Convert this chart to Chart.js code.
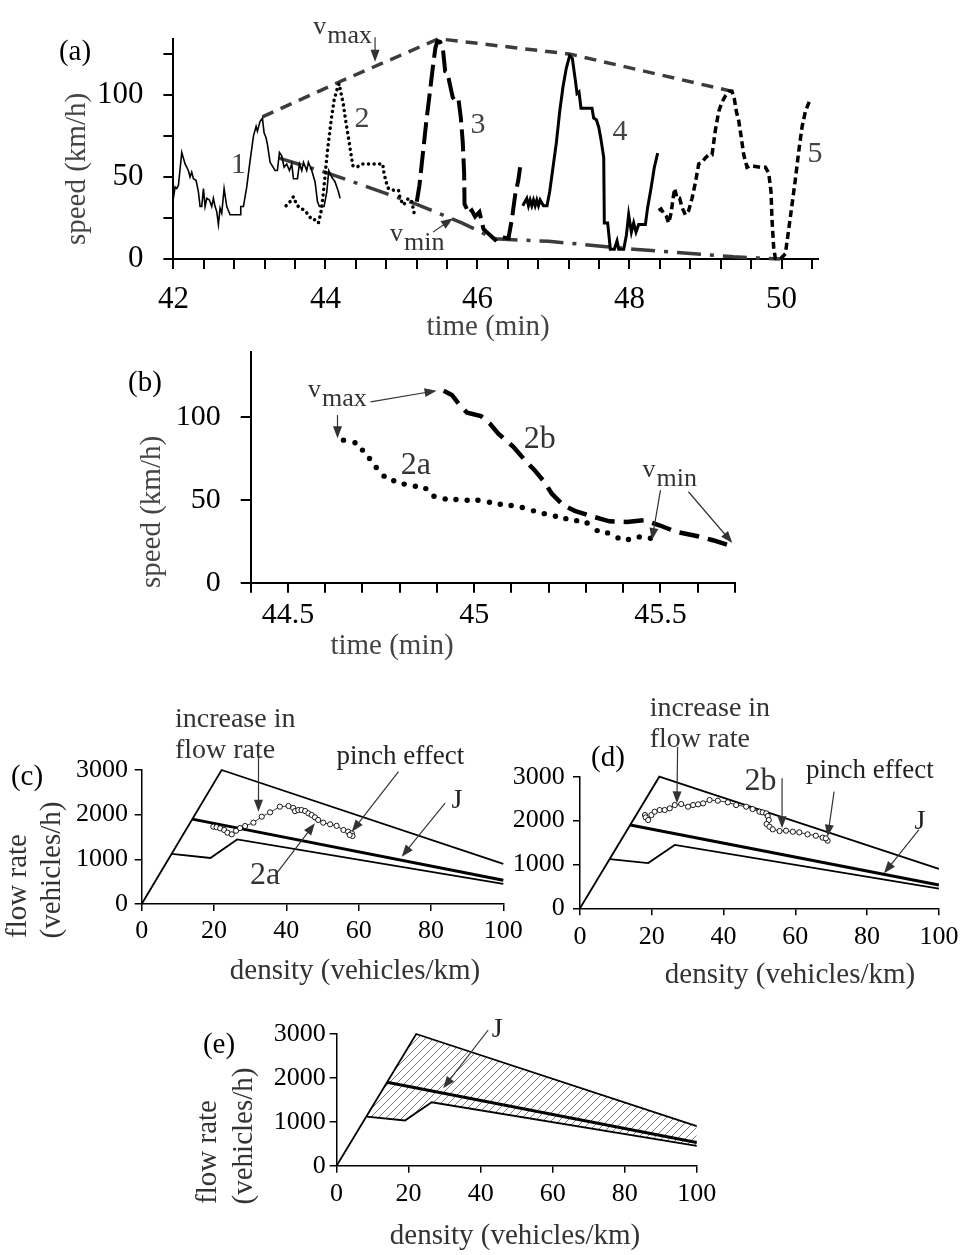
<!DOCTYPE html>
<html>
<head>
<meta charset="utf-8">
<title>speed and flow-density panels</title>
<script src="https://cdn.jsdelivr.net/npm/chart.js@4.4.1/dist/chart.umd.min.js"></script>
<style>
  body { margin: 0; background: #fff; }
  #page { position: relative; width: 965px; height: 1255px; }
  #page canvas { position: absolute; left: 0; top: 0; }
</style>
</head>
<body>
<div id="page">
  <canvas id="chartA" width="965" height="1255"></canvas>
  <canvas id="chartB" width="965" height="1255"></canvas>
  <canvas id="chartC" width="965" height="1255"></canvas>
  <canvas id="chartD" width="965" height="1255"></canvas>
  <canvas id="chartE" width="965" height="1255"></canvas>
</div>
<script>
// ---------- panel (a): speed over time, runs 1..5 ----------
const t1 = [42.000, 42.022, 42.044, 42.066, 42.110, 42.154, 42.197, 42.219, 42.241, 42.263, 42.298, 42.329, 42.351, 42.373, 42.395, 42.417, 42.439, 42.474, 42.504, 42.526, 42.548, 42.570, 42.592, 42.614, 42.636, 42.667, 42.702, 42.746, 42.877, 42.886, 42.921, 42.965, 43.009, 43.053, 43.088, 43.105, 43.140, 43.171, 43.193, 43.219, 43.237, 43.272, 43.338, 43.368, 43.395, 43.425, 43.456, 43.491, 43.526, 43.557, 43.579, 43.632, 43.658, 43.689, 43.711, 43.754, 43.776, 43.820, 43.864, 43.895, 43.921, 43.982, 44.018, 44.044, 44.083, 44.127, 44.171, 44.193];
const v1 = [37, 44, 43, 45, 65, 58, 54, 50, 53, 49, 48, 41, 32, 32, 43, 32, 37, 36, 32, 37, 32, 29, 21, 31, 28, 43, 32, 27, 27, 32, 32, 44, 60, 75, 81, 78, 84, 86, 77, 74, 70, 59, 54, 54, 65, 63, 56, 58, 54, 58, 49, 49, 58, 54, 59, 54, 59, 54, 47, 35, 32, 32, 41, 54, 50, 47, 41, 37];

const t2 = [43.482, 43.535, 43.579, 43.623, 43.667, 43.719, 43.776, 43.820, 43.864, 43.908, 43.939, 43.965, 43.991, 44.018, 44.044, 44.079, 44.114, 44.149, 44.180, 44.206, 44.237, 44.268, 44.303, 44.333, 44.360, 44.412, 44.478, 44.544, 44.632, 44.719, 44.754, 44.772, 44.798, 44.829, 44.895, 44.961, 44.982, 45.026, 45.092, 45.136, 45.167];
const v2 = [32.5, 35, 38, 33, 31, 30, 27, 24, 24, 22, 28, 37, 49, 62, 73, 86, 97, 103, 107, 101, 94, 84, 74, 65, 57, 56, 58, 58, 58, 58, 58, 52, 47, 43, 42, 42, 37, 33, 37, 35, 28];

const t3 = [45.202, 45.237, 45.281, 45.325, 45.368, 45.412, 45.447, 45.474, 45.509, 45.544, 45.575, 45.605, 45.640, 45.675, 45.706, 45.750, 45.781, 45.807, 45.825, 45.830, 45.851, 45.882, 45.925, 45.969, 46.026, 46.079, 46.123, 46.167, 46.232, 46.276, 46.408, 46.452, 46.496, 46.539, 46.561];
const v3 = [35, 45, 64, 83, 99.5, 116.5, 129, 133, 132.5, 129, 114.6, 113.7, 106, 98.6, 96.7, 97.6, 86.3, 71, 52, 33.4, 31.5, 27.8, 29.6, 25.9, 28.7, 18.3, 16.4, 14.5, 11.7, 13.6, 12.7, 24, 39, 48.5, 56];

const t4 = [46.596, 46.649, 46.671, 46.693, 46.715, 46.737, 46.759, 46.781, 46.803, 46.825, 46.868, 46.915, 46.950, 46.994, 47.038, 47.082, 47.125, 47.169, 47.213, 47.248, 47.288, 47.310, 47.336, 47.362, 47.507, 47.529, 47.564, 47.595, 47.625, 47.661, 47.669, 47.713, 47.748, 47.801, 47.836, 47.858, 47.924, 47.959, 47.989, 48.025, 48.055, 48.086, 48.121, 48.209, 48.239, 48.283, 48.327, 48.371];
const v4 = [32.5, 37, 32.5, 36, 32.5, 36, 32.5, 36, 32.5, 36, 32.5, 32.5, 41, 56, 71, 90, 105, 116.5, 124, 122.5, 109, 101, 102, 92, 92, 86, 85, 80.6, 73, 62, 22, 22, 6, 6, 11, 6, 6, 14.5, 27, 16.4, 22, 16.4, 21, 21, 31.5, 43, 56, 64.6];

const t5 = [48.384, 48.416, 48.450, 48.485, 48.516, 48.547, 48.573, 48.595, 48.625, 48.660, 48.691, 48.735, 48.779, 48.823, 48.867, 48.911, 48.955, 48.998, 49.042, 49.086, 49.130, 49.174, 49.217, 49.261, 49.305, 49.349, 49.380, 49.406, 49.437, 49.468, 49.503, 49.546, 49.590, 49.656, 49.722, 49.788, 49.832, 49.862, 49.875, 49.897, 49.919, 49.985, 50.051, 50.095, 50.139, 50.182, 50.226, 50.270, 50.314, 50.371];
const v5 = [29.6, 30.5, 27.8, 26, 22, 28, 37, 43, 37, 37, 31.5, 27, 29.6, 37, 46.6, 58, 59, 61.7, 63.6, 63.6, 78.7, 90, 95.7, 99.5, 102.3, 102.3, 97.6, 90, 84.4, 75, 63.6, 56, 57, 56.5, 56, 56, 52.3, 41, 24, 7, 0.4, 0, 3.2, 18.3, 33.4, 48.5, 65.5, 80.6, 90, 96.7];

// envelopes through the run maxima / minima
const tMax = [43.171, 44.180, 45.487, 47.222, 49.349];
const vMax = [86.7, 108, 134.4, 125, 102.3];
const tMin = [43.382, 44.039, 45.202, 45.794, 46.232, 46.474, 46.937, 48.055, 49.371, 49.985];
const vMin = [61.7, 52.3, 33.4, 22, 12.3, 11.7, 10.8, 6, 1.3, 0];

const aTimeLabels = [42, 44, 46, 48, 50];
const aSpeedLabels = [0, 50, 100];

// ---------- panel (b): runs 2a and 2b ----------
const t2a = [44.649, 44.680, 44.700, 44.719, 44.737, 44.758, 44.784, 44.812, 44.842, 44.870, 44.892, 44.922, 44.951, 44.981, 45.010, 45.041, 45.070, 45.099, 45.129, 45.159, 45.188, 45.218, 45.246, 45.275, 45.303, 45.330, 45.358, 45.386, 45.414, 45.443, 45.473];
const v2a = [85.9, 84.3, 79.9, 74.8, 69.4, 64.2, 61.4, 59.4, 58.1, 56.7, 52.1, 50.5, 50.1, 49.7, 49.7, 48.5, 47.3, 46.5, 45.3, 43.3, 41.6, 40.0, 38.6, 37.4, 36.0, 31.4, 30.0, 27.0, 26.0, 27.6, 26.8];
const t2b = [44.918, 44.940, 44.961, 44.981, 45.018, 45.043, 45.064, 45.105, 45.136, 45.162, 45.188, 45.208, 45.239, 45.270, 45.322, 45.363, 45.409, 45.456, 45.497, 45.543, 45.600, 45.641, 45.693];
const v2b = [115.7, 113.1, 107.0, 102.4, 100.4, 95.6, 89.9, 81.9, 73.8, 67.8, 60.8, 53.7, 46.7, 43.3, 39.6, 37.0, 36.6, 37.6, 34.6, 30.6, 28.0, 25.6, 21.9];
const bTimeLabels = [44.5, 45, 45.5];
const bSpeedLabels = [0, 50, 100];

// ---------- panels (c)-(e): flow rate vs density ----------
const dUpper = [0, 22.1, 100];
const qUpper = [0, 3000, 900];
const dJ = [14, 100];
const qJ = [1900, 530];
const dLower = [8.3, 19, 26.4, 100];
const qLower = [1120, 1030, 1445, 450];

const dRun2a = [19.8, 20.7, 21.7, 22.8, 23.7, 24.9, 26.1, 27.2, 28.6, 30.9, 33.2, 35.5, 38.2, 40.6, 41.9, 42.4, 43.3, 44.2, 45.2, 46.1, 47.0, 47.9, 48.8, 50.2, 52.1, 53.9, 55.8, 57.1, 58.1, 58.3, 57.5];
const qRun2a = [1731, 1720, 1694, 1657, 1597, 1560, 1640, 1700, 1746, 1821, 1955, 2052, 2179, 2194, 2150, 2080, 2104, 2104, 2082, 2030, 1993, 1940, 1881, 1821, 1784, 1750, 1657, 1619, 1582, 1522, 1545];
const dRun2b = [18.1, 18.3, 19.0, 19.9, 20.8, 22.2, 23.6, 25.0, 26.4, 28.2, 30.1, 31.5, 32.9, 34.3, 36.1, 38.4, 41.2, 43.5, 46.3, 48.1, 50.0, 50.9, 51.9, 52.3, 52.6, 52.0, 52.8, 53.7, 55.6, 57.4, 59.3, 61.1, 63.4, 65.7, 67.6, 69.0, 68.5];
const qRun2b = [2126, 2073, 2012, 2126, 2202, 2240, 2240, 2278, 2354, 2377, 2316, 2354, 2369, 2392, 2468, 2453, 2415, 2354, 2316, 2263, 2202, 2187, 2164, 2103, 2012, 1921, 1860, 1800, 1762, 1769, 1746, 1731, 1686, 1655, 1610, 1541, 1595];
const densityLabels = [0, 20, 40, 60, 80, 100];
const flowLabels = [0, 1000, 2000, 3000];

// ---------- helpers ----------
const SERIF = "'Liberation Serif', 'Times New Roman', serif";
Chart.defaults.font.family = SERIF;
Chart.defaults.color = '#000';

const pts = (xs, ys) => xs.map((x, i) => ({ x: x, y: ys[i] }));

function series(xs, ys, extra) {
  return Object.assign({
    data: pts(xs, ys), showLine: true, pointRadius: 0, borderColor: '#000',
    borderWidth: 1.6, tension: 0, fill: false, clip: false
  }, extra);
}

function axis(o) {
  return {
    type: 'linear', min: o.min, max: o.max,
    afterFit: s => { if (s.isHorizontal()) s.height = o.fit; else s.width = o.fit; },
    afterBuildTicks: s => { s.ticks = o.ticks.map(v => ({ value: v })); },
    ticks: {
      autoSkip: false, maxRotation: 0, padding: o.pad, color: '#000',
      font: { size: o.size },
      callback: v => o.labels.some(l => Math.abs(l - v) < 1e-6) ? String(+v.toFixed(1)) : ''
    },
    grid: { drawOnChartArea: false, tickLength: o.tick, color: '#000', lineWidth: o.bw },
    border: { color: '#000', width: o.bw }
  };
}

function makeChart(id, area, xo, yo, datasets, draw) {
  const [x0, y0, x1, y1] = area;
  xo.fit = 1255 - y1;
  yo.fit = x0;
  return new Chart(document.getElementById(id), {
    type: 'scatter',
    data: { datasets: datasets },
    options: {
      responsive: false, animation: false, events: [],
      layout: { padding: { left: 0, top: y0, right: 965 - x1, bottom: 0 } },
      plugins: { legend: { display: false }, tooltip: { enabled: false } },
      scales: { x: axis(xo), y: axis(yo) }
    },
    plugins: [{ id: 'notes_' + id, afterDraw: c => draw(c, c.ctx) }]
  });
}

function P(c, x, y) { return [c.scales.x.getPixelForValue(x), c.scales.y.getPixelForValue(y)]; }

function text(ctx, s, x, y, size, color, align, base) {
  ctx.save();
  ctx.font = size + 'px ' + SERIF;
  ctx.fillStyle = color || '#000';
  ctx.textAlign = align || 'center';
  ctx.textBaseline = base || 'middle';
  ctx.fillText(s, x, y);
  ctx.restore();
}
function textAt(c, s, dx, dy, size, color, align, base) {
  const [x, y] = P(c, dx, dy);
  text(c.ctx, s, x, y, size, color, align, base);
}
function vtitle(ctx, s, x, y, size, color) {
  ctx.save();
  ctx.translate(x, y);
  ctx.rotate(-Math.PI / 2);
  text(ctx, s, 0, 0, size, color);
  ctx.restore();
}
function subAt(c, main, sub, dx, dy, size, color) {
  const ctx = c.ctx;
  const [x, y] = P(c, dx, dy);
  text(ctx, main, x, y, size, color, 'left', 'alphabetic');
  ctx.save();
  ctx.font = size + 'px ' + SERIF;
  const w = ctx.measureText(main).width;
  ctx.restore();
  text(ctx, sub, x + w + 1, y + 9, size, color, 'left', 'alphabetic');
}
function arrowAt(c, from, to, color) {
  const ctx = c.ctx;
  const [x1, y1] = P(c, from[0], from[1]);
  const [x2, y2] = P(c, to[0], to[1]);
  const a = Math.atan2(y2 - y1, x2 - x1);
  const hl = 12, hw = 4.5;
  ctx.save();
  ctx.strokeStyle = ctx.fillStyle = color || '#333';
  ctx.lineWidth = 1.2;
  ctx.beginPath();
  ctx.moveTo(x1, y1);
  ctx.lineTo(x2 - hl * 0.8 * Math.cos(a), y2 - hl * 0.8 * Math.sin(a));
  ctx.stroke();
  ctx.beginPath();
  ctx.moveTo(x2, y2);
  ctx.lineTo(x2 - hl * Math.cos(a) + hw * Math.sin(a), y2 - hl * Math.sin(a) - hw * Math.cos(a));
  ctx.lineTo(x2 - hl * Math.cos(a) - hw * Math.sin(a), y2 - hl * Math.sin(a) + hw * Math.cos(a));
  ctx.closePath();
  ctx.fill();
  ctx.restore();
}

// diagonal hatch ('/') used for the band in panel (e)
function hatchPattern() {
  const cv = document.createElement('canvas');
  cv.width = cv.height = 8;
  const g = cv.getContext('2d');
  g.strokeStyle = '#444';
  g.lineWidth = 0.7;
  g.beginPath();
  g.moveTo(0, 8); g.lineTo(8, 0);
  g.moveTo(-1, 1); g.lineTo(1, -1);
  g.moveTo(7, 9); g.lineTo(9, 7);
  g.stroke();
  return g.createPattern(cv, 'repeat');
}

function envelopeSets() {
  return [
    series(dJ, qJ, { borderWidth: 3 }),
    series(dUpper, qUpper, { borderWidth: 1.8 }),
    series(dLower, qLower, { borderWidth: 1.8 })
  ];
}
const densAxis = (pad) => ({ min: 0, max: 100, ticks: densityLabels, labels: densityLabels, size: 26, pad: pad, tick: 7, bw: 1.5 });
const flowAxis = (pad) => ({ min: 0, max: 3000, ticks: flowLabels, labels: flowLabels, size: 26, pad: pad, tick: 7, bw: 1.5 });

// ---------- (a) ----------
const aMinor = [];
for (let k = 0; k <= 21; k++) aMinor.push(42 + k * 0.4);

makeChart('chartA', [173.4, 21.7, 818, 259],
  { min: 42, max: 50.48, ticks: aMinor, labels: aTimeLabels, size: 31, pad: 12, tick: 10, bw: 2 },
  { min: 0, max: 134.5, ticks: [0, 25, 50, 75, 100, 125], labels: aSpeedLabels, size: 31, pad: 20, tick: 10, bw: 2 },
  [
    series(t4, v4, { borderWidth: 3 }),
    series(t1, v1, { borderWidth: 1.6 }),
    series(t2, v2, { borderWidth: 3.5, borderDash: [0.1, 5.5], borderCapStyle: 'round' }),
    series(t3, v3, { borderWidth: 4, borderDash: [22, 7] }),
    series(t5, v5, { borderWidth: 3.5, borderDash: [7, 4] }),
    series(tMax, vMax, { borderWidth: 3.5, borderColor: '#3c3c3c', borderDash: [12, 8] }),
    series(tMin, vMin, { borderWidth: 3.5, borderColor: '#3c3c3c', borderDash: [24, 9, 4, 9] })
  ],
  (c, ctx) => {
    text(ctx, '(a)', 75, 52, 29, '#000');
    vtitle(ctx, 'speed (km/h)', 77, 169, 29, '#444');
    text(ctx, 'time (min)', 488, 327, 29, '#444');
    textAt(c, '1', 42.853, 57.2, 30, '#444');
    textAt(c, '2', 44.482, 85.6, 30, '#444');
    textAt(c, '3', 46.008, 81.6, 30, '#444');
    textAt(c, '4', 47.876, 77.6, 30, '#444');
    textAt(c, '5', 50.442, 64.0, 30, '#444');
    subAt(c, 'v', 'max', 43.84, 137.1, 26, '#333');
    arrowAt(c, [44.653, 135.4], [44.653, 120.3]);
    subAt(c, 'v', 'min', 44.85, 10.8, 26, '#333');
    arrowAt(c, [45.414, 16.4], [45.677, 24.9]);
  });

// ---------- (b) ----------
const bMinor = [];
for (let k = 0; k <= 13; k++) bMinor.push(44.4 + k * 0.1);

makeChart('chartB', [250.7, 352, 735, 582.7],
  { min: 44.4, max: 45.7, ticks: bMinor, labels: bTimeLabels, size: 30, pad: 4, tick: 10, bw: 2 },
  { min: 0, max: 139, ticks: [0, 50, 100], labels: bSpeedLabels, size: 30, pad: 20, tick: 10, bw: 2 },
  [
    series(t2b, v2b, { borderWidth: 4.5, borderDash: [20, 9] }),
    series(t2a, v2a, { showLine: false, pointRadius: 2.7, pointBackgroundColor: '#000', pointBorderWidth: 0 })
  ],
  (c, ctx) => {
    text(ctx, '(b)', 145, 383, 29, '#000');
    vtitle(ctx, 'speed (km/h)', 152, 512, 29, '#444');
    text(ctx, 'time (min)', 392, 646, 29, '#444');
    subAt(c, 'v', 'max', 44.554, 111.9, 26, '#333');
    arrowAt(c, [44.722, 109], [44.899, 115.7]);
    arrowAt(c, [44.633, 101], [44.633, 87]);
    textAt(c, '2a', 44.843, 70.3, 32, '#333');
    textAt(c, '2b', 45.176, 86, 32, '#333');
    subAt(c, 'v', 'min', 45.452, 63.7, 26, '#333');
    arrowAt(c, [45.500, 55.8], [45.477, 25.7]);
    arrowAt(c, [45.575, 54.8], [45.693, 23.9]);
  });

// ---------- (c) ----------
makeChart('chartC', [141.7, 770, 503.3, 904], densAxis(4.4), flowAxis(6.7),
  [series(dRun2a, qRun2a, { borderWidth: 0.8, pointRadius: 2.6, pointBorderWidth: 0.9, pointBackgroundColor: '#fff', pointBorderColor: '#000' })]
    .concat(envelopeSets()),
  (c, ctx) => {
    text(ctx, '(c)', 27, 777, 29, '#000');
    vtitle(ctx, 'flow rate', 18, 886, 29, '#333');
    vtitle(ctx, '(vehicles/h)', 52, 870, 29, '#333');
    text(ctx, 'density (vehicles/km)', 355, 971, 29, '#333');
    textAt(c, 'increase in', 9.2, 3962, 28, '#333', 'left', 'alphabetic');
    textAt(c, 'flow rate', 9.2, 3268, 28, '#333', 'left', 'alphabetic');
    arrowAt(c, [32.3, 3297], [32.3, 2066]);
    textAt(c, 'pinch effect', 53.9, 3134, 27, '#222', 'left', 'alphabetic');
    arrowAt(c, [71, 2962], [58.1, 1616]);
    textAt(c, 'J', 87.2, 2306, 28, '#222');
    arrowAt(c, [83.9, 2261], [71.9, 1059]);
    textAt(c, '2a', 34.1, 627, 32, '#333');
    arrowAt(c, [37.3, 687], [47.9, 1807]);
  });

// ---------- (d) ----------
makeChart('chartD', [580, 776.7, 940, 908.3], densAxis(6.6), flowAxis(8.3),
  [series(dRun2b, qRun2b, { borderWidth: 0.8, pointRadius: 2.6, pointBorderWidth: 0.9, pointBackgroundColor: '#fff', pointBorderColor: '#000' })]
    .concat(envelopeSets()),
  (c, ctx) => {
    text(ctx, '(d)', 608, 758, 29, '#000');
    text(ctx, 'density (vehicles/km)', 790, 975, 29, '#333');
    textAt(c, 'increase in', 19.4, 4383, 28, '#333', 'left', 'alphabetic');
    textAt(c, 'flow rate', 19.4, 3677, 28, '#333', 'left', 'alphabetic');
    arrowAt(c, [27.2, 3677], [27.0, 2393]);
    textAt(c, '2b', 50.3, 2879, 32, '#333');
    arrowAt(c, [56.3, 2963], [56.3, 1824]);
    textAt(c, 'pinch effect', 63.0, 2970, 27, '#222', 'left', 'alphabetic');
    arrowAt(c, [70.8, 2658], [69.0, 1632]);
    textAt(c, 'J', 94.7, 1967, 28, '#222');
    arrowAt(c, [94.4, 1785], [84.7, 798]);
  });

// ---------- (e) ----------
const hatchArea = [{ x: dLower[0], y: qLower[0] }]
  .concat(pts(dUpper, qUpper).filter(p => p.x > dLower[0]))
  .concat(pts(dLower, qLower).reverse());

makeChart('chartE', [336.6, 1034, 696.7, 1165.7], densAxis(5.7), flowAxis(3.8),
  envelopeSets().concat([{
    data: hatchArea, showLine: true, pointRadius: 0, borderWidth: 0, borderColor: 'rgba(0,0,0,0)',
    backgroundColor: hatchPattern(), fill: 'shape', tension: 0, clip: false
  }]),
  (c, ctx) => {
    text(ctx, '(e)', 219, 1045, 29, '#000');
    vtitle(ctx, 'flow rate', 208, 1152, 29, '#333');
    vtitle(ctx, '(vehicles/h)', 244, 1136, 29, '#333');
    text(ctx, 'density (vehicles/km)', 515, 1236, 29, '#333');
    textAt(c, 'J', 44.6, 3091, 28, '#222');
    arrowAt(c, [42.1, 3091], [29.6, 1763]);
  });
</script>
</body>
</html>
